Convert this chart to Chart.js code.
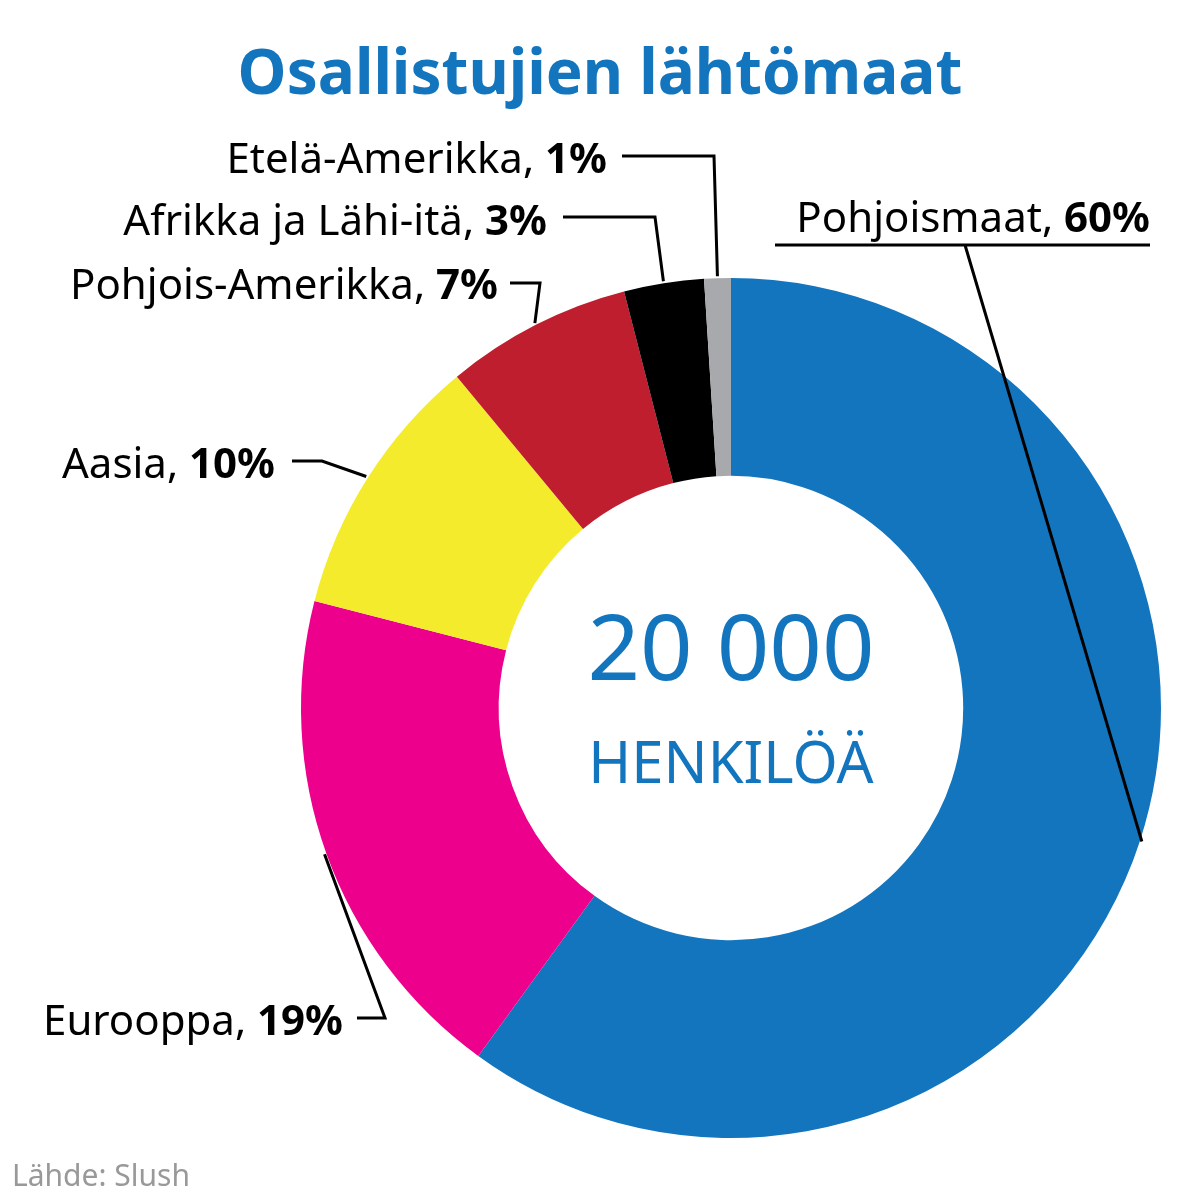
<!DOCTYPE html>
<html>
<head>
<meta charset="utf-8">
<script src="https://cdn.jsdelivr.net/npm/chart.js@4"></script>
<style>body{margin:0;background:#fff}</style>
</head>
<body>
<canvas id="c" width="1200" height="1200"></canvas>
<script>
const regions = ['Pohjoismaat', 'Eurooppa', 'Aasia', 'Pohjois-Amerikka', 'Afrikka ja Lähi-itä', 'Etelä-Amerikka'];
const shares = [60, 19, 10, 7, 3, 1];
const colors = ['#1275BE', '#EC008C', '#F5EB2D', '#BE1E2D', '#000000', '#A7A9AC'];

// label placement: text right edge, baseline, and leader elbow points
const labelLayout = [
  { x: 1150, y: 232, under: [775, 1150, 245], path: [[965, 245]] },
  { x: 343, y: 1035, path: [[357, 1018], [385, 1018]] },
  { x: 275, y: 478, path: [[292, 461], [322, 461]] },
  { x: 498, y: 299, path: [[510, 283], [540, 283]] },
  { x: 547, y: 235, path: [[563, 217], [655, 217]] },
  { x: 607, y: 173, path: [[622, 156], [714, 156]] }
];

const FONT = '"Noto Sans", sans-serif';

const overlay = {
  id: 'overlay',
  afterDraw(chart) {
    const ctx = chart.ctx;
    const meta = chart.getDatasetMeta(0);
    ctx.save();
    // title
    ctx.fillStyle = '#1275BE';
    ctx.textAlign = 'center';
    ctx.textBaseline = 'alphabetic';
    ctx.font = 'bold 62px ' + FONT;
    ctx.fillText('Osallistujien lähtömaat', 600, 94);
    // centre
    ctx.font = '92px ' + FONT;
    ctx.fillText('20 000', 731, 680);
    ctx.font = '58px ' + FONT;
    ctx.fillText('HENKILÖÄ', 731, 783);
    // source
    ctx.fillStyle = '#999';
    ctx.textAlign = 'left';
    ctx.font = '30px ' + FONT;
    ctx.fillText('Lähde: Slush', 12, 1186);
    // labels
    meta.data.forEach((arc, i) => {
      const L = labelLayout[i];
      const p = arc.getProps(['x', 'y', 'startAngle', 'endAngle', 'outerRadius'], true);
      const a = (p.startAngle + p.endAngle) / 2;
      const ex = p.x + Math.cos(a) * (p.outerRadius + 2);
      const ey = p.y + Math.sin(a) * (p.outerRadius + 2);
      ctx.strokeStyle = '#000';
      ctx.lineWidth = 3;
      ctx.beginPath();
      if (L.under) {
        ctx.moveTo(L.under[0], L.under[2]);
        ctx.lineTo(L.under[1], L.under[2]);
      }
      ctx.moveTo(L.path[0][0], L.path[0][1]);
      L.path.forEach(pt => ctx.lineTo(pt[0], pt[1]));
      ctx.lineTo(ex, ey);
      ctx.stroke();
      ctx.fillStyle = '#000';
      ctx.textAlign = 'right';
      ctx.font = 'bold 42px ' + FONT;
      const pct = shares[i] + '%';
      ctx.fillText(pct, L.x, L.y);
      const w = ctx.measureText(pct).width;
      ctx.font = '42px ' + FONT;
      ctx.fillText(regions[i] + ', ', L.x - w, L.y);
    });
    ctx.restore();
  }
};

new Chart(document.getElementById('c'), {
  type: 'doughnut',
  data: {
    labels: regions,
    datasets: [{ data: shares, backgroundColor: colors, borderWidth: 0 }]
  },
  options: {
    responsive: false,
    animation: false,
    cutout: '54%',
    layout: { padding: { left: 301, right: 39, top: 278, bottom: 62 } },
    plugins: { legend: { display: false }, tooltip: { enabled: false } }
  },
  plugins: [overlay]
});
</script>
</body>
</html>
